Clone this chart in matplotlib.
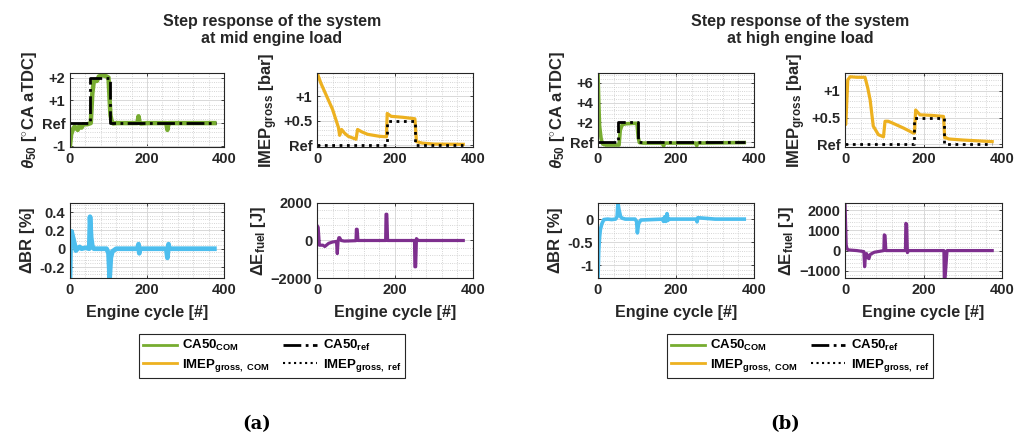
import matplotlib
matplotlib.use('Agg')
import matplotlib.pyplot as plt
from matplotlib.lines import Line2D
from matplotlib.ticker import AutoMinorLocator

plt.rcParams['font.family'] = ['Liberation Sans', 'DejaVu Sans']
plt.rcParams['font.weight'] = 'bold'
plt.rcParams['axes.labelweight'] = 'bold'
plt.rcParams['mathtext.fontset'] = 'custom'
plt.rcParams['mathtext.rm'] = 'Liberation Sans:bold'
plt.rcParams['mathtext.bf'] = 'Liberation Sans:bold'
plt.rcParams['mathtext.it'] = 'Liberation Sans:bold:italic'

TXT = '#262626'
GREEN = '#77AC30'
ORANGE = '#EDB120'
BLUE = '#4DBEEE'
PURPLE = '#7E2F8E'

# ---------------- data: (a) mid engine load ----------------
a_ca50_cyc = [0, 3, 8, 12, 20, 25, 30, 35, 45, 54, 58, 62, 70, 75, 85, 95, 100, 103, 105, 108,
              112, 120, 150, 175, 178, 181, 184, 200, 250, 253, 256, 260, 300, 375]
a_ca50 = [-1.0, -0.5, -0.25, -0.15, -0.3, -0.1, -0.2, -0.05, -0.05, 0.0, 1.3, 1.85, 1.85, 2.05,
          2.1, 2.05, 2.0, 1.0, 0.35, 0.1, -0.02, 0.0, 0.0, 0.0, 0.3, 0.0, -0.02, 0.0, 0.0, -0.3,
          0.0, 0.0, 0.0, 0.0]
a_ca50ref_cyc = [0, 52, 52, 103, 103, 380]
a_ca50ref = [0, 0, 2, 2, 0, 0]

a_imep_cyc = [0, 10, 25, 40, 55, 58, 63, 70, 80, 100, 104, 115, 130, 160, 178, 180, 190, 220,
              251, 255, 270, 300, 375]
a_imep = [1.49, 1.27, 1.0, 0.73, 0.36, 0.2, 0.32, 0.25, 0.18, 0.12, 0.32, 0.27, 0.22, 0.18,
          0.17, 0.65, 0.59, 0.57, 0.54, 0.07, 0.04, 0.02, 0.015]
a_imepref_cyc = [0, 179, 179, 252, 252, 375]
a_imepref = [0, 0, 0.5, 0.5, 0, 0]

a_br_cyc = [0, 2, 4, 8, 12, 15, 20, 25, 30, 40, 50, 52, 55, 58, 62, 70, 80, 95, 100, 103,
            106, 110, 120, 175, 178, 180, 182, 250, 253, 256, 258, 300, 375]
a_br = [-0.32, 0.15, 0.19, 0.12, 0.05, -0.02, 0.0, 0.02, 0.0, 0.01, 0.0, 0.35, 0.12, 0.03,
        0.0, 0.0, 0.0, 0.0, -0.05, -0.32, -0.1, -0.03, 0.0, 0.0, 0.05, -0.05, 0.0, 0.0, -0.1,
        0.05, 0.0, 0.0, 0.0]

a_ef_cyc = [0, 3, 6, 15, 20, 30, 40, 50, 52, 54, 56, 58, 62, 70, 100, 101, 103, 105, 176, 177,
            179, 181, 250, 251, 253, 255, 257, 260, 375]
a_ef = [800, 700, -250, -250, -320, -150, -80, -50, -700, -50, 150, 150, 0, -30, -10, 600, 600,
        0, 0, 1400, 1400, 0, 0, -1400, -1400, 100, 50, 0, 0]

# ---------------- data: (b) high engine load ----------------
b_ca50_cyc = [0, 2, 4, 8, 12, 20, 40, 54, 57, 62, 70, 90, 100, 103, 106, 115, 165, 168, 171,
              250, 253, 256, 375]
b_ca50 = [7.0, 4.0, 1.65, 0.33, -0.2, -0.3, -0.3, -0.3, 1.2, 1.75, 1.85, 1.9, 1.9, 0.5, -0.05,
          -0.1, -0.1, -0.4, -0.1, -0.1, -0.35, -0.1, -0.05]
b_ca50ref_cyc = [0, 51, 51, 102, 102, 378]
b_ca50ref = [0, 0, 2, 2, 0, 0]

b_imep_cyc = [0, 2, 7, 13, 30, 51, 58, 64, 72, 85, 98, 102, 110, 120, 150, 174, 177, 180, 191,
              220, 251, 254, 258, 264, 300, 375]
b_imep = [0.37, 0.37, 1.2, 1.26, 1.25, 1.25, 1.05, 0.83, 0.34, 0.18, 0.14, 0.43, 0.43, 0.4, 0.3,
          0.21, 0.21, 0.64, 0.55, 0.54, 0.52, 0.12, 0.12, 0.1, 0.08, 0.05]
b_imepref_cyc = [0, 176, 176, 252, 252, 375]
b_imepref = [0, 0, 0.5, 0.5, 0, 0]

b_br_cyc = [0, 2, 4, 6, 10, 15, 25, 35, 45, 49, 51, 54, 58, 62, 70, 95, 99, 101, 104, 110,
            165, 168, 171, 174, 177, 179, 182, 252, 254, 256, 300, 375]
b_br = [-1.28, -0.67, -0.4, -0.23, -0.1, -0.01, 0.0, -0.01, 0.0, 0.05, 0.35, 0.2, 0.05, 0.02,
        0.0, 0.0, -0.05, -0.3, -0.1, -0.02, 0.0, -0.05, 0.05, -0.05, 0.12, -0.03, 0.0, 0.0,
        -0.06, 0.03, 0.0, 0.0]

b_ef_cyc = [0, 3, 5, 10, 30, 48, 50, 52, 55, 58, 61, 64, 68, 75, 90, 99, 100, 102, 104, 154,
            155, 157, 159, 162, 252, 253, 255, 260, 375]
b_ef = [2360, 300, 80, 30, 0, -50, -800, -300, -150, -350, -400, -200, -150, -80, -30, 0, 780,
        750, 0, 0, 1350, 1300, -100, 0, 0, -1360, -1360, 0, 0]

W, H = 1025, 436
fig = plt.figure(figsize=(W / 100, H / 100), dpi=100)


def make_axes(x0, x1, y0, y1):
    ax = fig.add_axes([x0 / W, 1 - y1 / H, (x1 - x0) / W, (y1 - y0) / H])
    ax.set_xlim(0, 400)
    ax.set_xticks([0, 200, 400])
    ax.xaxis.set_minor_locator(AutoMinorLocator(5))
    ax.yaxis.set_minor_locator(AutoMinorLocator(5))
    ax.grid(True, which='major', color='#d9d9d9', lw=0.7)
    ax.grid(True, which='minor', color='#c8c8c8', lw=0.6, ls=':')
    ax.set_axisbelow(True)
    ax.tick_params(which='both', direction='in', top=True, right=True, colors=TXT,
                   labelsize=10.5, length=2.5, width=0.6)
    ax.tick_params(which='minor', length=0)
    for s in ax.spines.values():
        s.set_color(TXT)
        s.set_linewidth(0.8)
    return ax


panels = [
    dict(dx=0, title='Step response of the system\nat mid engine load', tag='(a)',
         ca=(a_ca50_cyc, a_ca50, a_ca50ref_cyc, a_ca50ref), ca_lim=(-1.05, 2.2),
         ca_ticks=([-1, 0, 1, 2], ['-1', 'Ref', '+1', '+2']),
         im=(a_imep_cyc, a_imep, a_imepref_cyc, a_imepref), im_lim=(-0.04, 1.48),
         br=(a_br_cyc, a_br), br_lim=(-0.32, 0.5), br_ticks=[-0.2, 0, 0.2, 0.4],
         br_lbl=['-0.2', '0', '0.2', '0.4'],
         ef=(a_ef_cyc, a_ef), ef_lim=(-2000, 2000), ef_ticks=[-2000, 0, 2000],
         boxes=[(70, 224), (317, 473)], lw_ca=3.2, lw_br=3.4),
    dict(dx=528, title='Step response of the system\nat high engine load', tag='(b)',
         ca=(b_ca50_cyc, b_ca50, b_ca50ref_cyc, b_ca50ref), ca_lim=(-0.5, 7.0),
         ca_ticks=([0, 2, 4, 6], ['Ref', '+2', '+4', '+6']),
         im=(b_imep_cyc, b_imep, b_imepref_cyc, b_imepref), im_lim=(-0.05, 1.33),
         br=(b_br_cyc, b_br), br_lim=(-1.28, 0.35), br_ticks=[-1, -0.5, 0],
         br_lbl=['-1', '-0.5', '0'],
         ef=(b_ef_cyc, b_ef), ef_lim=(-1360, 2360), ef_ticks=[-1000, 0, 1000, 2000],
         boxes=[(598, 754), (845, 1002)], lw_ca=2.6, lw_br=2.6),
]

LBL = 12

for p in panels:
    (l0, l1), (r0, r1) = p['boxes']

    # CA50
    ax = make_axes(l0, l1, 73, 147)
    cx, cy, rx, ry = p['ca']
    ax.plot(cx, cy, color=GREEN, lw=p['lw_ca'])
    ax.plot(rx, ry, color='black', lw=2, ls='-.')
    ax.set_ylim(*p['ca_lim'])
    ax.set_yticks(p['ca_ticks'][0])
    ax.set_yticklabels(p['ca_ticks'][1])
    ax.set_ylabel(r'$\theta_{50}$ [$^{\circ}$CA aTDC]', fontsize=LBL, color=TXT, labelpad=2)

    # IMEP
    ax = make_axes(r0, r1, 73, 147)
    cx, cy, rx, ry = p['im']
    ax.plot(cx, cy, color=ORANGE, lw=2.3)
    ax.plot(rx, ry, color='black', lw=2, ls=':')
    ax.set_ylim(*p['im_lim'])
    ax.set_yticks([0, 0.5, 1])
    ax.set_yticklabels(['Ref', '+0.5', '+1'])
    ax.set_ylabel(r'IMEP$_{\mathrm{gross}}$ [bar]', fontsize=LBL, color=TXT, labelpad=2)

    # Delta BR
    ax = make_axes(l0, l1, 203, 278)
    ax.plot(*p['br'], color=BLUE, lw=p['lw_br'])
    ax.set_ylim(*p['br_lim'])
    ax.set_yticks(p['br_ticks'])
    ax.set_yticklabels(p['br_lbl'])
    ax.set_ylabel(r'$\Delta$BR [%]', fontsize=LBL, color=TXT, labelpad=2)
    ax.set_xlabel('Engine cycle [#]', fontsize=11.5, color=TXT, labelpad=6)

    # Delta E fuel
    ax = make_axes(r0, r1, 203, 278)
    ax.plot(*p['ef'], color=PURPLE, lw=2.3)
    ax.set_ylim(*p['ef_lim'])
    ax.set_yticks(p['ef_ticks'])
    ax.set_ylabel(r'$\Delta$E$_{\mathrm{fuel}}$ [J]', fontsize=LBL, color=TXT, labelpad=2)
    ax.set_xlabel('Engine cycle [#]', fontsize=11.5, color=TXT, labelpad=6)

    cx_pix = 272 + p['dx']
    fig.text(cx_pix / W, 1 - 30 / H, p['title'], ha='center', va='center', fontsize=11.5,
             color=TXT, linespacing=1.1)

    handles = [
        Line2D([], [], color=GREEN, lw=2),
        Line2D([], [], color=ORANGE, lw=2),
        Line2D([], [], color='black', lw=2, ls='-.'),
        Line2D([], [], color='black', lw=1.5, ls=':'),
    ]
    labels = [r'CA50$_{\mathrm{COM}}$', r'IMEP$_{\mathrm{gross,\ COM}}$',
              r'CA50$_{\mathrm{ref}}$', r'IMEP$_{\mathrm{gross,\ ref}}$']
    leg = fig.legend(handles, labels, ncol=2, loc='center',
                     bbox_to_anchor=(cx_pix / W, 1 - 356 / H), fontsize=9.5,
                     frameon=True, fancybox=False, edgecolor=TXT, framealpha=1,
                     handlelength=2.6, handletextpad=0.4, columnspacing=1.0,
                     borderpad=0.3, labelspacing=0.25)
    leg.get_frame().set_linewidth(0.8)
    for t in leg.get_texts():
        t.set_color('black')

    fig.text((257 + p['dx']) / W, 1 - 424 / H, p['tag'], ha='center', va='center',
             fontsize=13, family='DejaVu Serif', weight='bold', color='black')

fig.savefig('out.png', dpi=100)
